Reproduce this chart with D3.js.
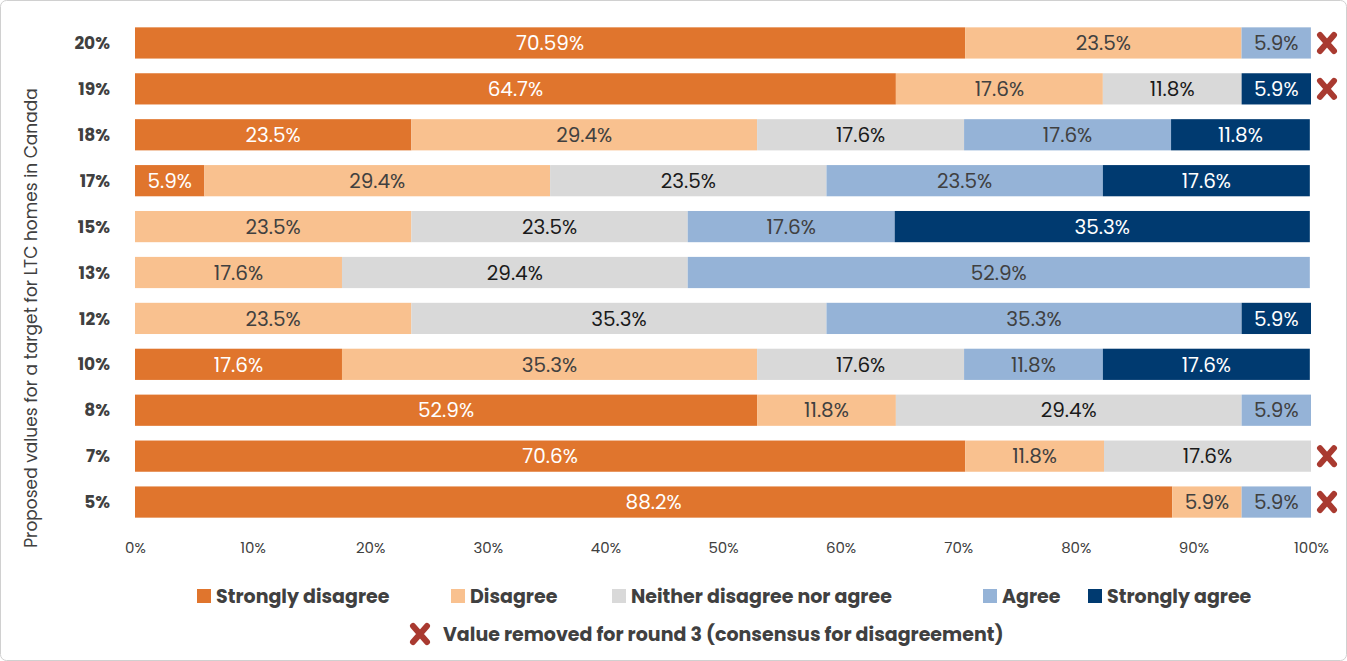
<!DOCTYPE html>
<html><head><meta charset="utf-8">
<script src="https://cdn.jsdelivr.net/npm/d3@7"></script>
<style>body{margin:0;background:#fff;}svg{font-family:Poppins,"Open Sans",Lato,sans-serif;}</style>
</head><body>
<svg id="c" width="1347" height="661"></svg>
<script>
const categories = ["20%","19%","18%","17%","15%","13%","12%","10%","8%","7%","5%"];
const seriesNames = ["Strongly disagree","Disagree","Neither disagree nor agree","Agree","Strongly agree"];
const stronglyDisagree = [70.59,64.7,23.5,5.9,0,0,0,17.6,52.9,70.6,88.2];
const disagree        = [23.5,17.6,29.4,29.4,23.5,17.6,23.5,35.3,11.8,11.8,5.9];
const neither         = [0,11.8,17.6,23.5,23.5,29.4,35.3,17.6,29.4,17.6,0];
const agree           = [5.9,0,17.6,23.5,17.6,52.9,35.3,11.8,5.9,0,5.9];
const stronglyAgree   = [0,5.9,11.8,17.6,35.3,0,5.9,17.6,0,0,0];
const removed = ["20%","19%","7%","5%"];
const xTicks = [0,10,20,30,40,50,60,70,80,90,100];
const colors = ["#E0752D","#F9C18F","#D9D9D9","#95B3D7","#003A70"];
const textColors = ["#fff","#404040","#1a1a1a","#404040","#fff"];
const series = [stronglyDisagree,disagree,neither,agree,stronglyAgree];

const svg = d3.select("#c");
svg.append("rect").attr("x",0.5).attr("y",0.5).attr("width",1346).attr("height",660).attr("rx",6).attr("fill","#fff").attr("stroke","#d0d0d0");

const x = d3.scaleLinear().domain([0,100]).range([135,1311]);
const y = d3.scaleBand().domain(categories).range([20,525]).paddingInner(0.32).paddingOuter(0.16);

const rows = categories.map((c,i)=>{const o={cat:c}; seriesNames.forEach((s,j)=>o[s]=series[j][i]); return o;});
const stack = d3.stack().keys(seriesNames)(rows);

stack.forEach((layer,j)=>{
  const g = svg.append("g");
  layer.forEach(d=>{
    const v = d[1]-d[0]; if(v<=0) return;
    g.append("rect").attr("x",x(d[0])).attr("y",y(d.data.cat)).attr("width",x(d[1])-x(d[0])).attr("height",y.bandwidth()).attr("fill",colors[j]);
    const lbl = (d.data.cat==="20%"&&j===0)? "70.59%" : v.toFixed(1)+"%";
    g.append("text").attr("x",(x(d[0])+x(d[1]))/2).attr("y",y(d.data.cat)+y.bandwidth()/2).attr("dy","0.36em")
      .attr("text-anchor","middle").attr("font-size",20).attr("fill",textColors[j]).text(lbl);
  });
});

function cross(g,cx,cy){
  g.append("path").attr("d",`M${cx-7},${cy-8}L${cx+7},${cy+8}M${cx+7},${cy-8}L${cx-7},${cy+8}`)
   .attr("stroke","#A93A30").attr("stroke-width",6).attr("stroke-linecap","round");
}
removed.forEach(c=>cross(svg,1327,y(c)+y.bandwidth()/2));

// y labels
categories.forEach(c=>svg.append("text").attr("x",110).attr("y",y(c)+y.bandwidth()/2).attr("dy","0.36em")
  .attr("text-anchor","end").attr("font-size",17).attr("font-weight","bold").attr("fill","#404040").text(c));

const xa = svg.append("g").attr("transform","translate(0,536)")
  .call(d3.axisBottom(x).tickValues(xTicks).tickFormat(d=>d+"%").tickSize(0));
xa.select(".domain").remove();
xa.selectAll("text").attr("font-size",15).attr("fill","#404040").attr("font-family","Poppins,'Open Sans',sans-serif").attr("dy","0.9em");

svg.append("text").attr("transform","translate(37,318) rotate(-90)").attr("text-anchor","middle")
  .attr("font-size",17).attr("fill","#404040").text("Proposed values for a target for LTC homes in Canada");

const legX = [197,451,612,983,1088];
seriesNames.forEach((s,j)=>{
  svg.append("rect").attr("x",legX[j]).attr("y",589).attr("width",14).attr("height",14).attr("fill",colors[j]);
  svg.append("text").attr("x",legX[j]+19).attr("y",596).attr("dy","0.36em").attr("font-size",19).attr("font-weight","bold").attr("fill","#404040").text(s);
});
cross(svg,420,634);
svg.append("text").attr("x",443).attr("y",634).attr("dy","0.36em").attr("font-size",19).attr("font-weight","bold").attr("fill","#404040").text("Value removed for round 3 (consensus for disagreement)");
</script></body></html>
